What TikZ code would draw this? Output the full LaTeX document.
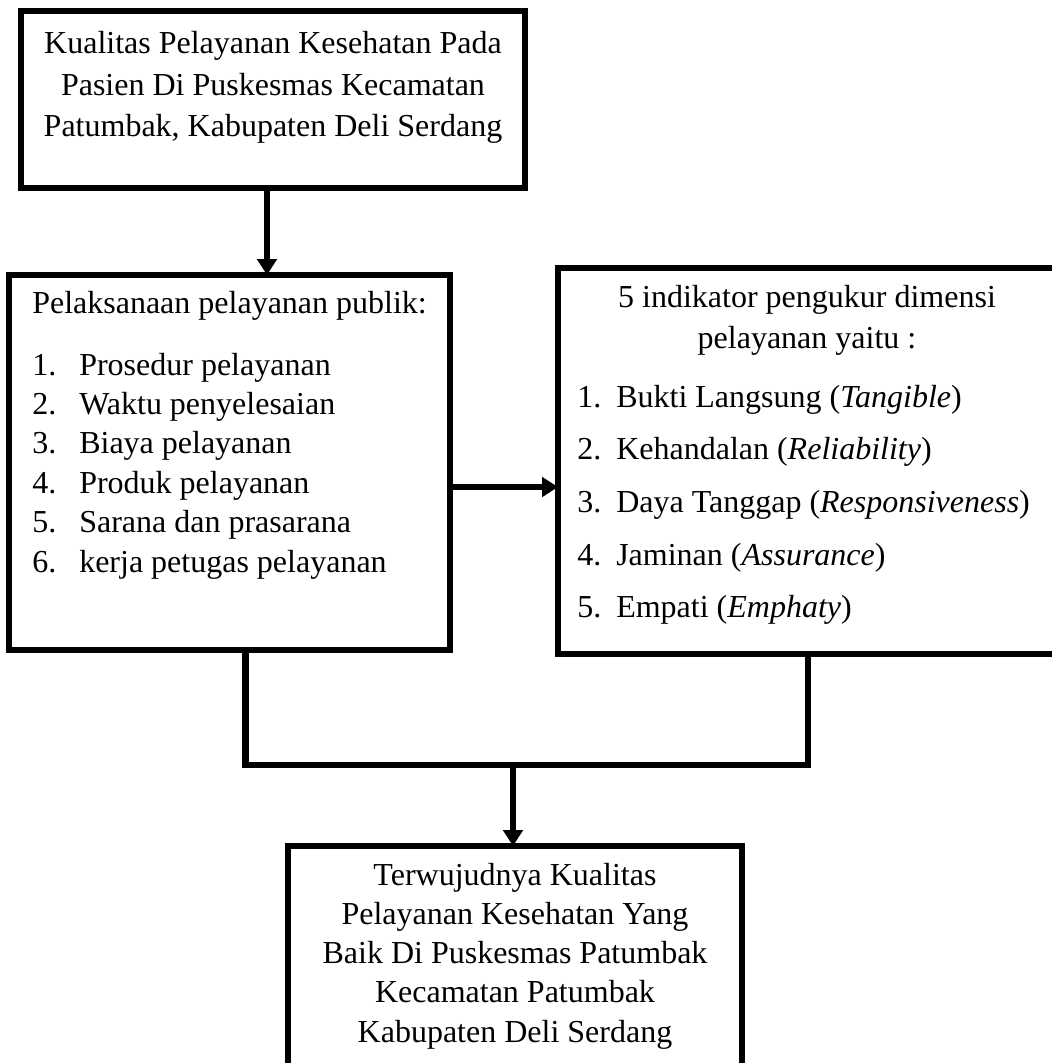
\documentclass[tikz,border=0pt]{standalone}
\usepackage{fontspec}
\setmainfont{Liberation Serif}
\usetikzlibrary{arrows.meta}
\tikzset{
  box/.style={draw, line width=5pt, inner sep=0pt, outer sep=0pt},
  link/.style={line width=5pt},
  arr/.style={link, -{Triangle[length=12pt,width=14.5pt]}},
  txt/.style={inner sep=0pt, font=\fontsize{24}{30}\selectfont},
}
\begin{document}
\begin{tikzpicture}[x=0.75pt,y=-0.75pt]
\useasboundingbox (0,0) rectangle (1052,1063);
\clip (0,0) rectangle (1052,1063);
% boxes
\node[box, minimum width=378pt, minimum height=132.75pt] (top) at (273,99.5) {};
\node[box, minimum width=330.75pt, minimum height=281.25pt] (left) at (229.5,462.5) {};
\node[box, minimum width=375pt, minimum height=289.5pt] (right) at (808,461) {};
\node[box, minimum width=340.5pt, minimum height=175.5pt] (bottom) at (515,963) {};
% top box
\foreach \i/\lbl in {0/Kualitas Pelayanan Kesehatan Pada,1/Pasien Di Puskesmas Kecamatan,2/{Patumbak, Kabupaten Deli Serdang}}
{
\node[txt, anchor=base] (top\i) at (273,54+41*\i) {\lbl};
}
% left box
\node[txt, anchor=base west] (pubhead) at (32,313) {Pelaksanaan pelayanan publik:};
\foreach \i/\lbl in {1/Prosedur pelayanan,2/Waktu penyelesaian,3/Biaya pelayanan,4/Produk pelayanan,5/Sarana dan prasarana,6/kerja petugas pelayanan}
{
\node[txt, anchor=base west] (pubnum\i) at (32,375+39.4*\i-39.4) {\i.};
\node[txt, anchor=base west] (pub\i) at (79,375+39.4*\i-39.4) {\lbl};
}
% right box
\node[txt, anchor=base] (indhead1) at (807,307) {5 indikator pengukur dimensi};
\node[txt, anchor=base] (indhead2) at (807,348) {pelayanan yaitu :};
\foreach \i/\lbl in {1/{Bukti Langsung (\textit{Tangible})},2/{Kehandalan (\textit{Reliability})},3/{Daya Tanggap (\textit{Responsiveness})},4/{Jaminan (\textit{Assurance})},5/{Empati (\textit{Emphaty})}}
{
\node[txt, anchor=base west] (indnum\i) at (577,407+52.7*\i-52.7) {\i.};
\node[txt, anchor=base west] (ind\i) at (616,407+52.7*\i-52.7) {\lbl};
}
% bottom box
\foreach \i/\lbl in {0/Terwujudnya Kualitas,1/Pelayanan Kesehatan Yang,2/Baik Di Puskesmas Patumbak,3/Kecamatan Patumbak,4/Kabupaten Deli Serdang}
{
\node[txt, anchor=base] (res\i) at (515,885+39.3*\i) {\lbl};
}
% connectors
\draw[arr] ([xshift=-4.5pt]top.south) -- ([xshift=-4.5pt]top.south |- left.north);
\draw[arr] ([yshift=-18.4pt]left.east) -- ([yshift=-18.4pt]left.east -| right.west);
\coordinate (join) at (513,765);
\draw[link] ([xshift=12pt]left.south) |- (join) -| (right.south);
\draw[arr] (join) -- (join |- bottom.north);
\end{tikzpicture}
\end{document}
